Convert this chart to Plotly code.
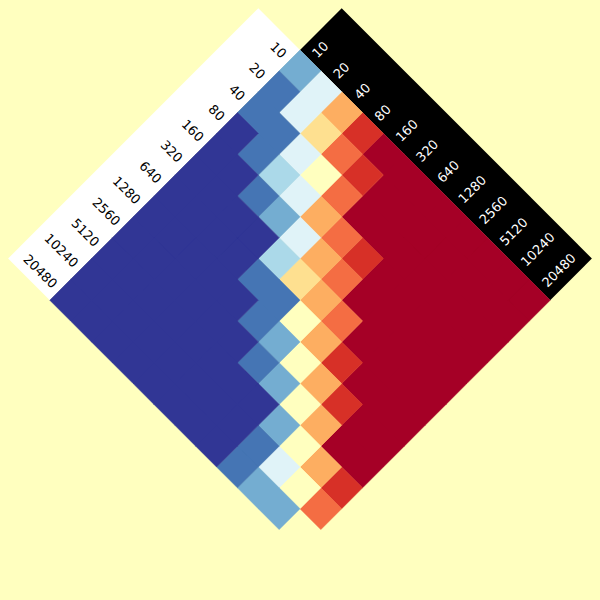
import plotly.graph_objects as go

# ---- data -------------------------------------------------------------
sizes = ["10", "20", "40", "80", "160", "320", "640", "1280",
         "2560", "5120", "10240", "20480"]

# RdYlBu classes: 0 = strongest red ... 10 = strongest blue
palette = ["#a50026", "#d73027", "#f46d43", "#fdae61", "#fee090", "#ffffbf",
           "#e0f3f8", "#abd9e9", "#74add1", "#4575b4", "#313695"]

NA = None
levels = [
    [8, 6, 3, 1, 0, 0, 0, 0, 0, 0, 0, 0],
    [9, 6, 4, 2, 1, 0, 0, 0, 0, 0, 0, 0],
    [9, 9, 6, 5, 2, 0, 0, 0, 0, 0, 0, 0],
    [10, 9, 7, 6, 3, 2, 1, 0, 0, 0, 0, 0],
    [10, 10, 9, 8, 6, 3, 2, 0, 0, 0, 0, 0],
    [10, 10, 10, 10, 7, 4, 3, 2, 0, 0, 0, 0],
    [10, 10, 10, 10, 9, 9, 5, 3, 1, 0, 0, 0],
    [10, 10, 10, 10, 10, 9, 8, 5, 3, 1, 0, 0],
    [10, 10, 10, 10, 10, 10, 9, 8, 5, 3, 0, 0],
    [10, 10, 10, 10, 10, 10, 10, 10, 8, 5, 3, 1],
    [10, 10, 10, 10, 10, 10, 10, 10, 9, 6, 5, 2],
    [10, 10, 10, 10, 10, 10, 10, 10, 9, 8, 8, NA],
]

# ---- geometry (rotated grid: row i runs down-left, column j down-right) ----
N = len(sizes)
C = 20.85          # pixels per grid unit
BG = "#ffffbf"
FONT = "DejaVu Sans"
FS = 13
CW = 0.28          # digit width in grid units
GAP = 0.22         # label gap from grid edge in grid units


def to_xy(i, j):
    return (j - i, i + j)


def quad(i0, i1, j0, j1):
    pts = [to_xy(i0, j0), to_xy(i0, j1), to_xy(i1, j1), to_xy(i1, j0), to_xy(i0, j0)]
    return [p[0] for p in pts], [p[1] for p in pts]


fig = go.Figure()

# label bands
for (i0, i1, j0, j1, col) in [(0, N, -2, 0, "white"), (-2, 0, 0, N, "black")]:
    xs, ys = quad(i0, i1, j0, j1)
    fig.add_trace(go.Scatter(x=xs, y=ys, mode="lines", fill="toself",
                             fillcolor=col, line=dict(width=0, color=col),
                             hoverinfo="skip", showlegend=False))

# cells grouped by colour
for lvl, col in enumerate(palette):
    xs, ys = [], []
    for i in range(N):
        for j in range(N):
            if levels[i][j] == lvl:
                qx, qy = quad(i, i + 1, j, j + 1)
                xs += qx + [None]
                ys += qy + [None]
    if xs:
        fig.add_trace(go.Scatter(x=xs, y=ys, mode="lines", fill="toself",
                                 fillcolor=col, line=dict(width=0.6, color=col),
                                 hoverinfo="skip", showlegend=False))

# labels
for t, lab in enumerate(sizes):
    L = len(lab) * CW
    # white band (rows), text reads down-right and ends near the grid
    x, y = to_xy(t + 0.52, -GAP - L / 2)
    fig.add_annotation(x=x, y=y, text=lab, showarrow=False, textangle=45,
                       font=dict(family=FONT, size=FS, color="black"),
                       xanchor="center", yanchor="middle")
    # black band (columns), text reads up-right starting near the grid
    x, y = to_xy(-GAP - L / 2, t + 0.48)
    fig.add_annotation(x=x, y=y, text=lab, showarrow=False, textangle=-45,
                       font=dict(family=FONT, size=FS, color="white"),
                       xanchor="center", yanchor="middle")

fig.update_layout(
    width=600, height=600, autosize=False,
    margin=dict(l=0, r=0, t=0, b=0),
    paper_bgcolor=BG, plot_bgcolor=BG,
    xaxis=dict(range=[-300 / C, 300 / C], visible=False, fixedrange=True),
    yaxis=dict(range=[550 / C, -50 / C], visible=False, fixedrange=True),
    showlegend=False,
)

fig.write_html("out.html")
